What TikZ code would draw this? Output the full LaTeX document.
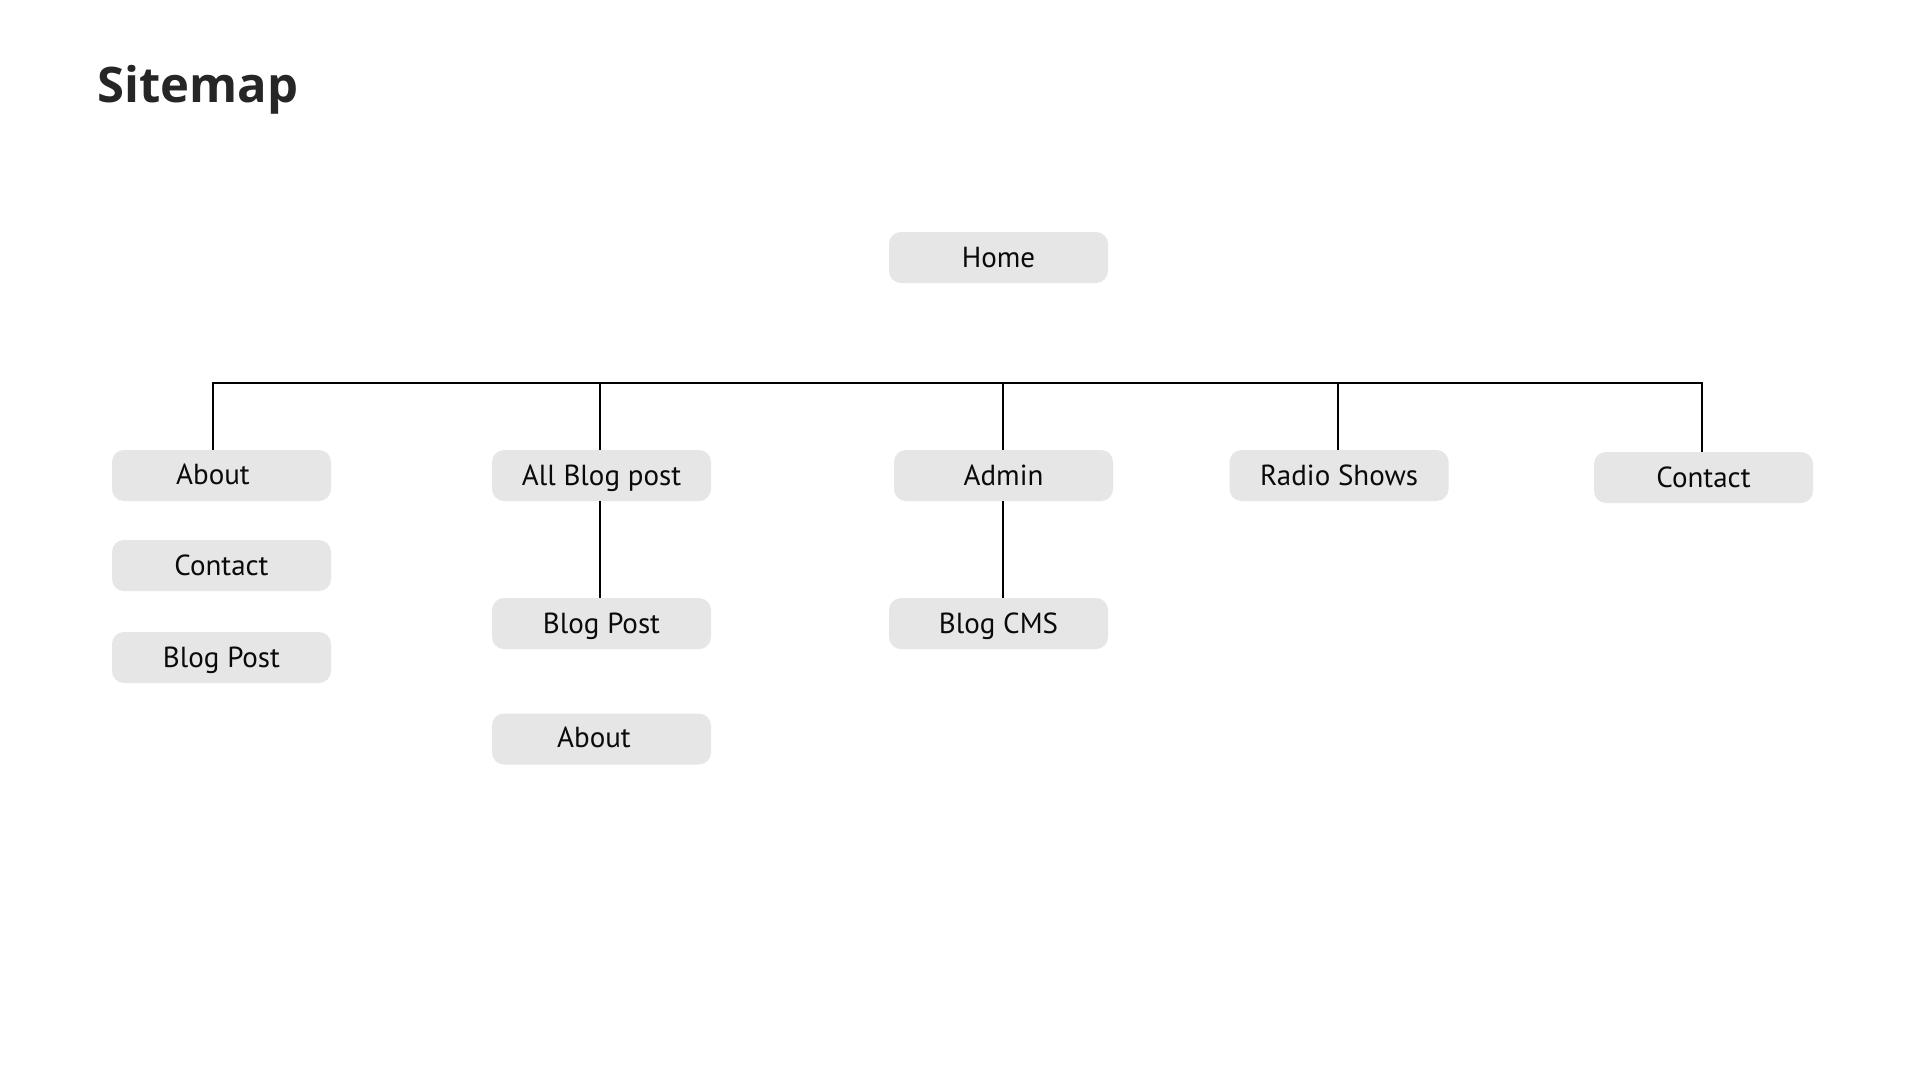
\documentclass[tikz,border=0pt]{standalone}
\usepackage{fontspec}
\setmainfont{PT Sans}
\newfontfamily\titlefont{Open Sans}
\usetikzlibrary{calc}
\definecolor{boxgray}{HTML}{E6E6E6}
\definecolor{txt}{HTML}{0A0A0A}
\definecolor{ttl}{HTML}{262626}
\begin{document}
\begin{tikzpicture}[x=1pt,y=-1pt,
  pagebox/.style={draw=none,fill=boxgray,rounded corners=12pt,minimum width=219pt,minimum height=51pt,inner sep=0pt,
    text=txt,font=\fontsize{29}{34}\selectfont,text height=20pt,text depth=0pt},
  lbl/.style={text=txt,font=\fontsize{29}{34}\selectfont,inner sep=0pt,text height=20pt,text depth=0pt},
  link/.style={draw=black,line width=1.2pt}]
\useasboundingbox (0,0) rectangle (1920,1080);
\fill[white] (0,0) rectangle (1920,1080);

\node[anchor=base west,inner sep=0pt,text=ttl,font=\titlefont\bfseries\fontsize{49}{58}\selectfont] (title) at (97,102) {Sitemap};

\node[pagebox] (home) at (998.5,257.5) {Home};

\node[pagebox,label={[lbl,xshift=-8.5pt,yshift=1.5pt]center:About}] (about) at (221.5,475.5) {};
\node[pagebox] (contactl) at (221.5,565.5) {Contact};
\node[pagebox] (blogpostl) at (221.5,657.5) {Blog Post};

\node[pagebox] (allblog) at (601.5,475.5) {All Blog post};
\node[pagebox] (blogpostm) at (601.5,623.5) {Blog Post};
\node[pagebox,label={[lbl,xshift=-7.5pt,yshift=1.5pt]center:About}] (aboutm) at (601.5,739) {};

\node[pagebox] (admin) at (1003.5,475.5) {Admin};
\node[pagebox] (blogcms) at (998.5,623.5) {Blog CMS};

\node[pagebox] (radio) at (1339,475.5) {Radio Shows};
\node[pagebox] (contactr) at (1703.5,477.5) {Contact};

\coordinate (bar) at (0,383);
\coordinate (aTop) at ($(about.north)+(-8.5,0)$);
\coordinate (bTop) at ($(allblog.north)+(-1.5,0)$);
\coordinate (cTop) at ($(admin.north)+(-0.5,0)$);
\coordinate (dTop) at ($(radio.north)+(-1,0)$);
\coordinate (eTop) at ($(contactr.north)+(-1.5,0)$);

\draw[link] (aTop) -- (aTop |- bar) -- (eTop |- bar) -- (eTop);
\draw[link] (bTop) -- (bTop |- bar);
\draw[link] (cTop) -- (cTop |- bar);
\draw[link] (dTop) -- (dTop |- bar);

\draw[link] (bTop |- allblog.south) -- (bTop |- blogpostm.north);
\draw[link] (cTop |- admin.south) -- (cTop |- blogcms.north);
\end{tikzpicture}
\end{document}
